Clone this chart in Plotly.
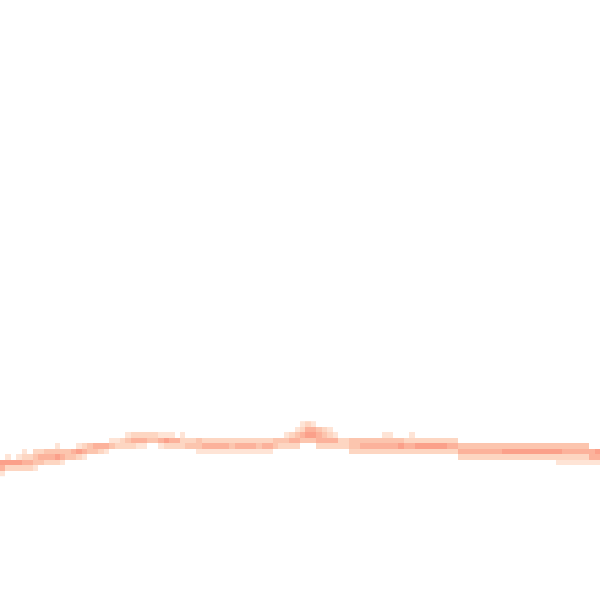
import plotly.graph_objects as go

# Density levels per grid row (rows counted from the top, 110 columns each; '0' = empty cell)
row_77 = "0000000000 0000000000 0000000000 0000000000 0000000000 0000012100 0000000000 0000000000 0000000000 0000000000 0000000000"
row_78 = "0000000000 0000000000 0000000000 0000000000 0000000000 0000124432 1000000000 0000000000 0000000000 0000000000 0000000000"
row_79 = "0000000000 0000000000 0001222221 1101000000 0000000000 0012345543 2100000000 1100010000 0000000000 0000000000 0000000000"
row_80 = "0000000000 0000000000 1123444334 5442223222 2222222222 3334433344 4422333333 3333222222 2222000000 0000000000 0000000000"
row_81 = "0000000000 1000123444 3222211001 2222333444 4434444344 3222200022 2222334444 4445445555 5544333333 3333333333 3333333300"
row_82 = "0000102233 3334543321 0000000000 0000001111 1111111111 0000000000 0000222222 2222222222 2222444444 4455555555 5554444445"
row_83 = "0101223444 5433210000 0000000000 0000000000 0000000000 0000000000 0000000000 0000000000 0000222222 2222222222 2222222244"
row_84 = "5555443322 2100000000 0000000000 0000000000 0000000000 0000000000 0000000000 0000000000 0000000000 0000000000 0011111111"
row_85 = "4222221000 0000000000 0000000000 0000000000 0000000000 0000000000 0000000000 0000000000 0000000000 0000000000 0000000000"
row_86 = "1000000000 0000000000 0000000000 0000000000 0000000000 0000000000 0000000000 0000000000 0000000000 0000000000 0000000000"

row_index = [77, 78, 79, 80, 81, 82, 83, 84, 85, 86]
row_data = [row_77, row_78, row_79, row_80, row_81, row_82, row_83, row_84, row_85, row_86]
n_cols = 110

z = []
for s in row_data:
    digits = s.replace(" ", "")
    z.append([int(ch) if ch != "0" else None for ch in digits])

colorscale = [[0.0, "#fee4d6"], [0.25, "#fdd6c2"], [0.5, "#fcc5ae"], [0.75, "#fcb29b"], [1.0, "#fba08a"]]

fig = go.Figure(go.Heatmap(
    z=z,
    x=list(range(n_cols)),
    y=row_index,
    colorscale=colorscale,
    zmin=1, zmax=5,
    showscale=False,
    hoverongaps=False,
))

fig.update_layout(
    width=600, height=600,
    margin=dict(l=0, r=0, t=0, b=0),
    paper_bgcolor="white",
    plot_bgcolor="white",
    xaxis=dict(visible=False, range=[-0.5, 109.5]),
    yaxis=dict(visible=False, range=[109.28, -0.72]),
)

fig.write_html(
    "out.html",
    config={"displayModeBar": False},
    post_script="document.body.style.margin='0px'; document.body.style.overflow='hidden';",
)
